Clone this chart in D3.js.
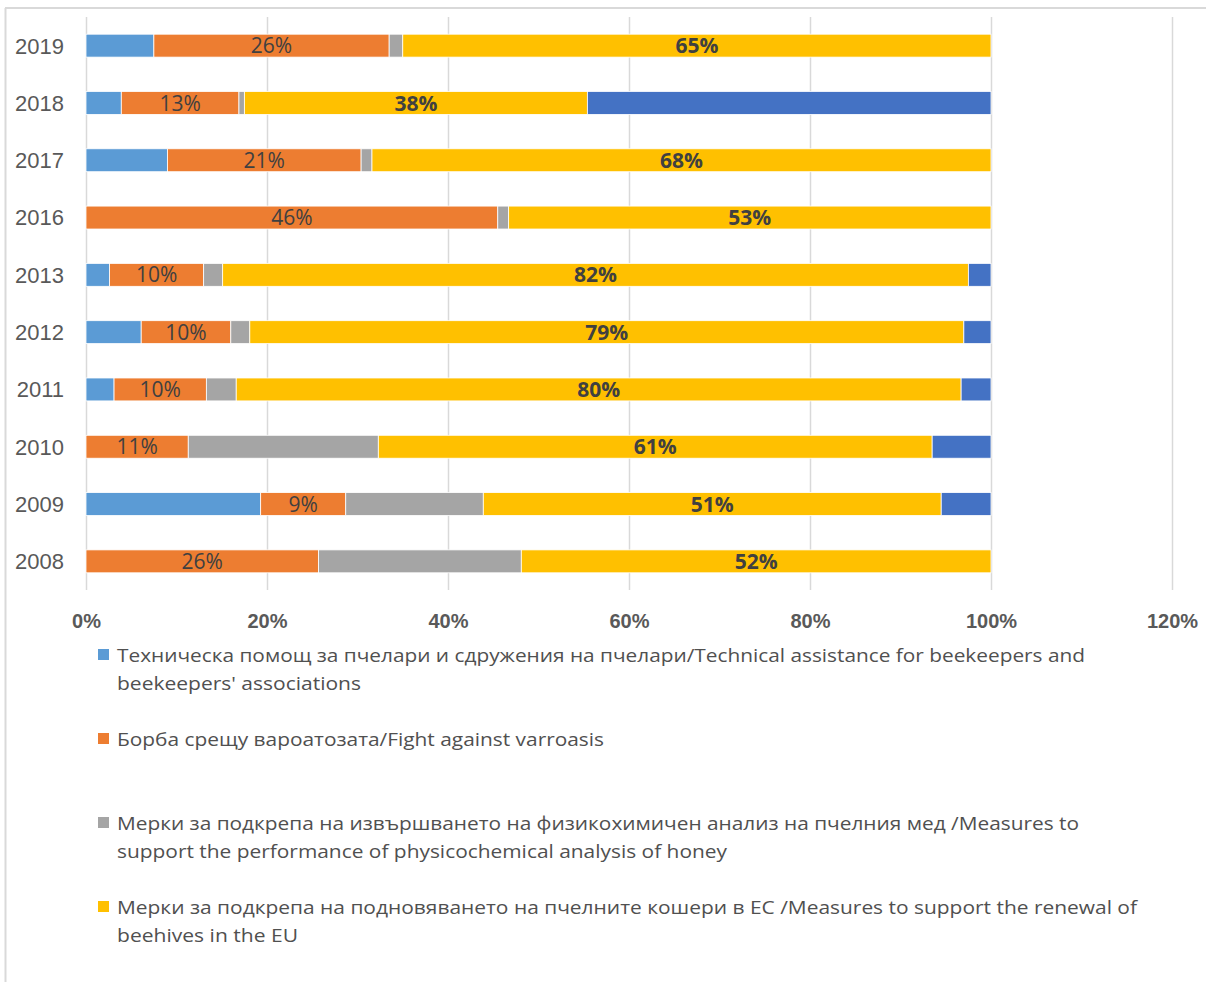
<!DOCTYPE html>
<html>
<head>
<meta charset="utf-8">
<script src="https://cdn.jsdelivr.net/npm/d3@7"></script>
<style>
  body { margin: 0; background: #fff; }
  svg { display: block; font-family: "Open Sans", sans-serif; }
  .grid line { stroke: #d9d9d9; stroke-width: 1.5; }
  .grid path { display: none; }
  .axis--x path, .axis--x line { display: none; }
  .axis--x text { font-size: 20px; font-weight: bold; fill: #595959; }
  .axis--y path, .axis--y line { display: none; }
  .axis--y text { font-size: 22px; fill: #595959; }
  .bar-label { font-size: 21px; fill: #404040; }
  .legend-text { font-size: 19px; fill: #505050; }
</style>
</head>
<body>
<svg id="chart" width="1206" height="982"></svg>
<script>
// years, top to bottom
const years = ["2019", "2018", "2017", "2016", "2013", "2012", "2011", "2010", "2009", "2008"];

// shares in percent, one array per series (same order as years)
const technical = [7.5, 3.9, 9.0, 0, 2.6, 6.1, 3.1, 0, 19.3, 0];
const varroasis = [26.0, 13.0, 21.4, 45.5, 10.4, 9.9, 10.2, 11.3, 9.4, 25.7];
const analysis = [1.5, 0.6, 1.2, 1.2, 2.1, 2.1, 3.3, 21.0, 15.2, 22.4];
const renewal = [65.0, 37.9, 68.4, 53.3, 82.4, 78.9, 80.1, 61.2, 50.6, 51.9];
const other = [0, 44.6, 0, 0, 2.5, 3.0, 3.3, 6.5, 5.5, 0];

const xTicks = [0, 20, 40, 60, 80, 100, 120];

const seriesNames = [
  ["Техническа помощ за пчелари и сдружения на пчелари/Technical assistance for beekeepers and", "beekeepers' associations"],
  ["Борба срещу вароатозата/Fight against varroasis"],
  ["Мерки за подкрепа на извършването на физикохимичен анализ на пчелния мед /Measures to", "support the performance of physicochemical analysis of honey"],
  ["Мерки за подкрепа на подновяването на пчелните кошери в ЕС /Measures to support the renewal of", "beehives in the EU"]
];

const series = [
  { key: "technical", values: technical, color: "#5B9BD5", label: false },
  { key: "varroasis", values: varroasis, color: "#ED7D31", label: "normal" },
  { key: "analysis", values: analysis, color: "#A5A5A5", label: false },
  { key: "renewal", values: renewal, color: "#FFC000", label: "bold" },
  { key: "other", values: other, color: "#4472C4", label: false }
];

const svg = d3.select("#chart");

// outer frame (top and left edge visible)
svg.append("line").attr("x1", 5).attr("x2", 1206).attr("y1", 8).attr("y2", 8)
  .attr("stroke", "#d9d9d9").attr("stroke-width", 2);
svg.append("line").attr("x1", 5.5).attr("x2", 5.5).attr("y1", 8).attr("y2", 982)
  .attr("stroke", "#d9d9d9").attr("stroke-width", 2);

const plotTop = 17, plotBottom = 590;
const x = d3.scaleLinear().domain([0, 120]).range([86, 1172]);
const y = d3.scaleBand().domain(years).range([plotTop, plotBottom])
  .paddingInner(0.6).paddingOuter(0.3);

// vertical gridlines
svg.append("g")
  .attr("class", "grid")
  .attr("transform", "translate(0," + plotBottom + ")")
  .call(d3.axisBottom(x).tickValues(xTicks).tickSize(-(plotBottom - plotTop)).tickFormat(""));

// stacked bars
let rows = years.map((yr, i) => {
  let r = { year: yr };
  series.forEach(s => { r[s.key] = s.values[i]; });
  return r;
});
const stack = d3.stack().keys(series.map(s => s.key))(rows);

stack.forEach((layer, li) => {
  const s = series[li];
  const g = svg.append("g").attr("class", "series-" + s.key);
  g.selectAll("rect")
    .data(layer.filter(d => d[1] - d[0] > 0))
    .enter().append("rect")
    .attr("x", d => x(d[0]))
    .attr("y", d => y(d.data.year))
    .attr("width", d => x(d[1]) - x(d[0]))
    .attr("height", y.bandwidth())
    .attr("fill", s.color)
    .attr("stroke", "#fff")
    .attr("stroke-width", 0.8);

  if (s.label) {
    g.selectAll("text")
      .data(layer.filter(d => d[1] - d[0] > 0))
      .enter().append("text")
      .attr("class", "bar-label")
      .attr("x", d => (x(d[0]) + x(d[1])) / 2)
      .attr("y", d => y(d.data.year) + y.bandwidth() / 2)
      .attr("dy", "0.36em")
      .attr("text-anchor", "middle")
      .style("font-weight", s.label)
      .text(d => Math.round(d[1] - d[0]) + "%");
  }
});

// y axis (years)
svg.append("g")
  .attr("class", "axis axis--y")
  .attr("transform", "translate(64,0)")
  .call(d3.axisLeft(y).tickSize(0).tickPadding(0))
  .selectAll("text").attr("dy", "0.36em");

// x axis labels
svg.append("g")
  .attr("class", "axis axis--x")
  .attr("transform", "translate(0," + plotBottom + ")")
  .call(d3.axisBottom(x).tickValues(xTicks).tickSize(0).tickPadding(24).tickFormat(d => d + "%"));

// legend
const legendTops = [662, 746, 830, 914];
const lineWidths = [[968, 244], [487], [962, 610], [1020, 181]];
const legend = svg.append("g").attr("class", "legend");
seriesNames.forEach((lines, i) => {
  const base = legendTops[i];
  legend.append("rect")
    .attr("x", 98).attr("y", base - 13)
    .attr("width", 11).attr("height", 11)
    .attr("fill", series[i].color);
  lines.forEach((ln, j) => {
    legend.append("text")
      .attr("class", "legend-text")
      .attr("x", 117)
      .attr("y", base + j * 28)
      .attr("textLength", lineWidths[i][j])
      .attr("lengthAdjust", "spacingAndGlyphs")
      .text(ln);
  });
});
</script>
</body>
</html>
